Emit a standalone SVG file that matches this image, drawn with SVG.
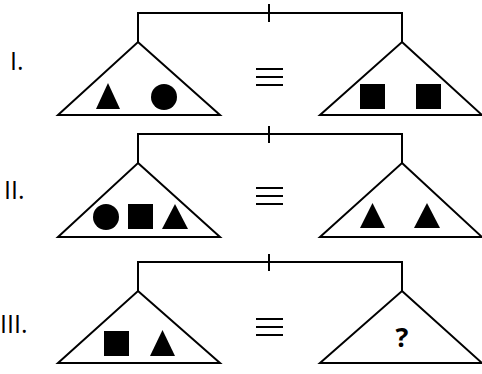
<svg xmlns="http://www.w3.org/2000/svg" width="482" height="374" viewBox="0 0 482 374">
<style>
.ln{fill:none;stroke:#000;stroke-width:2}
.tri{fill:#fff;stroke:#000;stroke-width:2;stroke-linejoin:miter}
.sh{fill:#000}
.lbl{font-family:"Open Sans","Liberation Sans",sans-serif;font-size:25px;fill:#000}
.q{font-family:"Open Sans","Liberation Sans",sans-serif;font-size:27px;font-weight:bold;fill:#000}
</style>
<rect width="482" height="374" fill="#fff"/>
<g id="connectors">
<path class="ln" d="M138,42 V13 H402 V42 M269,4 V22"/>
<path class="ln" d="M138,163 V134 H402 V163 M269,126 V143"/>
<path class="ln" d="M138,291 V262 H402 V291 M269,254 V271"/>
<path class="ln" d="M256,69 H283 M256,77 H283 M256,85 H283"/>
<path class="ln" d="M256,188 H283 M256,196 H283 M256,204 H283"/>
<path class="ln" d="M256,319 H283 M256,327 H283 M256,335 H283"/>
</g>
<g id="label-1"><text class="lbl" x="10" y="70">I.</text></g>
<g id="label-2"><text class="lbl" x="4" y="199">II.</text></g>
<g id="label-3"><text class="lbl" x="0" y="333">III.</text></g>
<g id="left-1">
<polygon class="tri" points="138,42 220,115 58,115"/>
<polygon class="sh" points="108,83 120,109 96,109"/>
<circle class="sh" cx="164" cy="97" r="13"/>
</g>
<g id="right-1">
<polygon class="tri" points="402,42 482,115 320,115"/>
<rect class="sh" x="360" y="84" width="25" height="25"/>
<rect class="sh" x="416" y="84" width="25" height="25"/>
</g>
<g id="left-2">
<polygon class="tri" points="138,163 220,237 58,237"/>
<circle class="sh" cx="106" cy="217" r="13"/>
<rect class="sh" x="128" y="204" width="25" height="25"/>
<polygon class="sh" points="175,204 188,229 162,229"/>
</g>
<g id="right-2">
<polygon class="tri" points="402,163 482,237 320,237"/>
<polygon class="sh" points="372.5,203 385,228 360,228"/>
<polygon class="sh" points="427,203 440,228 414,228"/>
</g>
<g id="left-3">
<polygon class="tri" points="138,291 220,363 58,363"/>
<rect class="sh" x="104" y="331" width="25" height="25"/>
<polygon class="sh" points="162.5,330 175,356 150,356"/>
</g>
<g id="right-3">
<polygon class="tri" points="402,291 482,363 320,363"/>
<text class="q" x="402" y="347" text-anchor="middle">?</text>
</g>
</svg>
